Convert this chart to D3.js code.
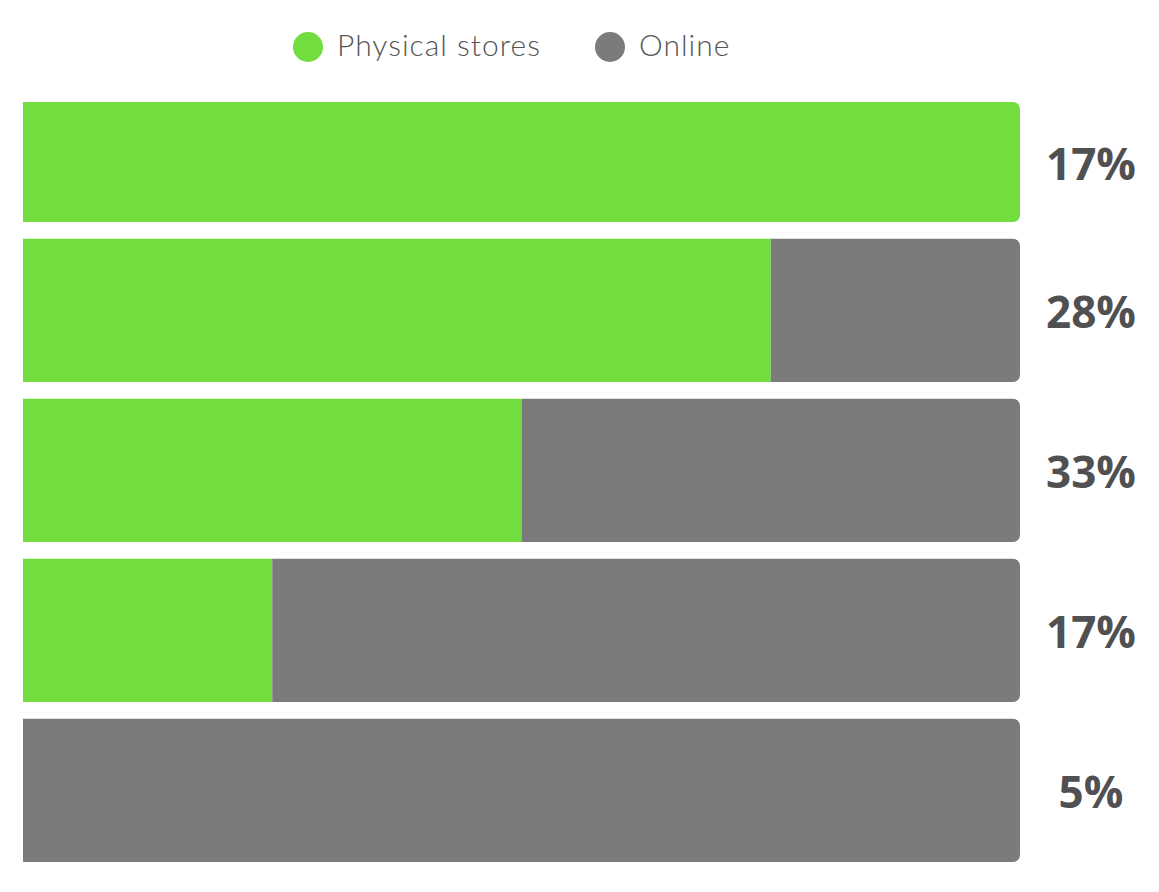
<!DOCTYPE html>
<html>
<head>
<meta charset="utf-8">
<script src="https://cdn.jsdelivr.net/npm/d3@7"></script>
<style>
  body { margin: 0; background: #fff; }
  svg { display: block; }
</style>
</head>
<body>
<div id="chart"></div>
<script>
// data
const rows = ["Row 1", "Row 2", "Row 3", "Row 4", "Row 5"];
const physical = [100, 75, 50, 25, 0];
const online = [0, 25, 50, 75, 100];
const shareLabels = ["17%", "28%", "33%", "17%", "5%"];
const seriesNames = ["Physical stores", "Online"];
const seriesColors = ["#72dd3e", "#7b7b7b"];

const width = 1159, height = 892;
const plotTop = 102;   // top bar is cut off here

const svg = d3.select("#chart").append("svg")
  .attr("width", width)
  .attr("height", height);

const x = d3.scaleLinear().domain([0, 100]).range([23, 1020]);
const y = d3.scaleBand()
  .domain(rows)
  .range([70.35, 870.35])
  .paddingInner(0.104)
  .paddingOuter(0.052);

// rect with only the right corners rounded
function barPath(x0, y0, x1, y1, r) {
  if (r <= 0) return `M${x0},${y0}H${x1}V${y1}H${x0}Z`;
  return `M${x0},${y0}H${x1 - r}A${r},${r} 0 0 1 ${x1},${y0 + r}` +
    `V${y1 - r}A${r},${r} 0 0 1 ${x1 - r},${y1}H${x0}Z`;
}

const table = rows.map((r, i) => ({ row: r, values: [physical[i], online[i]], label: shareLabels[i] }));

const g = svg.append("g");
table.forEach(d => {
  const top = Math.max(y(d.row), plotTop);
  const bottom = y(d.row) + y.bandwidth();
  let acc = 0;
  d.values.forEach((v, k) => {
    if (v <= 0) return;
    const start = acc;
    acc += v;
    g.append("path")
      .attr("d", barPath(x(start), top, x(acc), bottom, acc >= 100 ? 7 : 0))
      .attr("fill", seriesColors[k]);
  });
  svg.append("text")
    .attr("x", 1091)
    .attr("y", (top + bottom) / 2 + 2)
    .attr("dy", "0.36em")
    .attr("text-anchor", "middle")
    .style("font-family", "'Open Sans', sans-serif")
    .style("font-weight", 700)
    .style("font-size", "44px")
    .style("fill", "#505052")
    .text(d.label);
});

// legend
const legendX = [308, 610];
const legend = svg.append("g");
seriesNames.forEach((name, i) => {
  legend.append("circle")
    .attr("cx", legendX[i])
    .attr("cy", 47)
    .attr("r", 15)
    .attr("fill", seriesColors[i]);
  legend.append("text")
    .attr("x", legendX[i] + 29)
    .attr("y", 56)
    .style("font-family", "Lato, sans-serif")
    .style("font-weight", 300)
    .style("font-size", "30px")
    .style("letter-spacing", "1px")
    .style("fill", "#555")
    .text(name);
});
</script>
</body>
</html>
